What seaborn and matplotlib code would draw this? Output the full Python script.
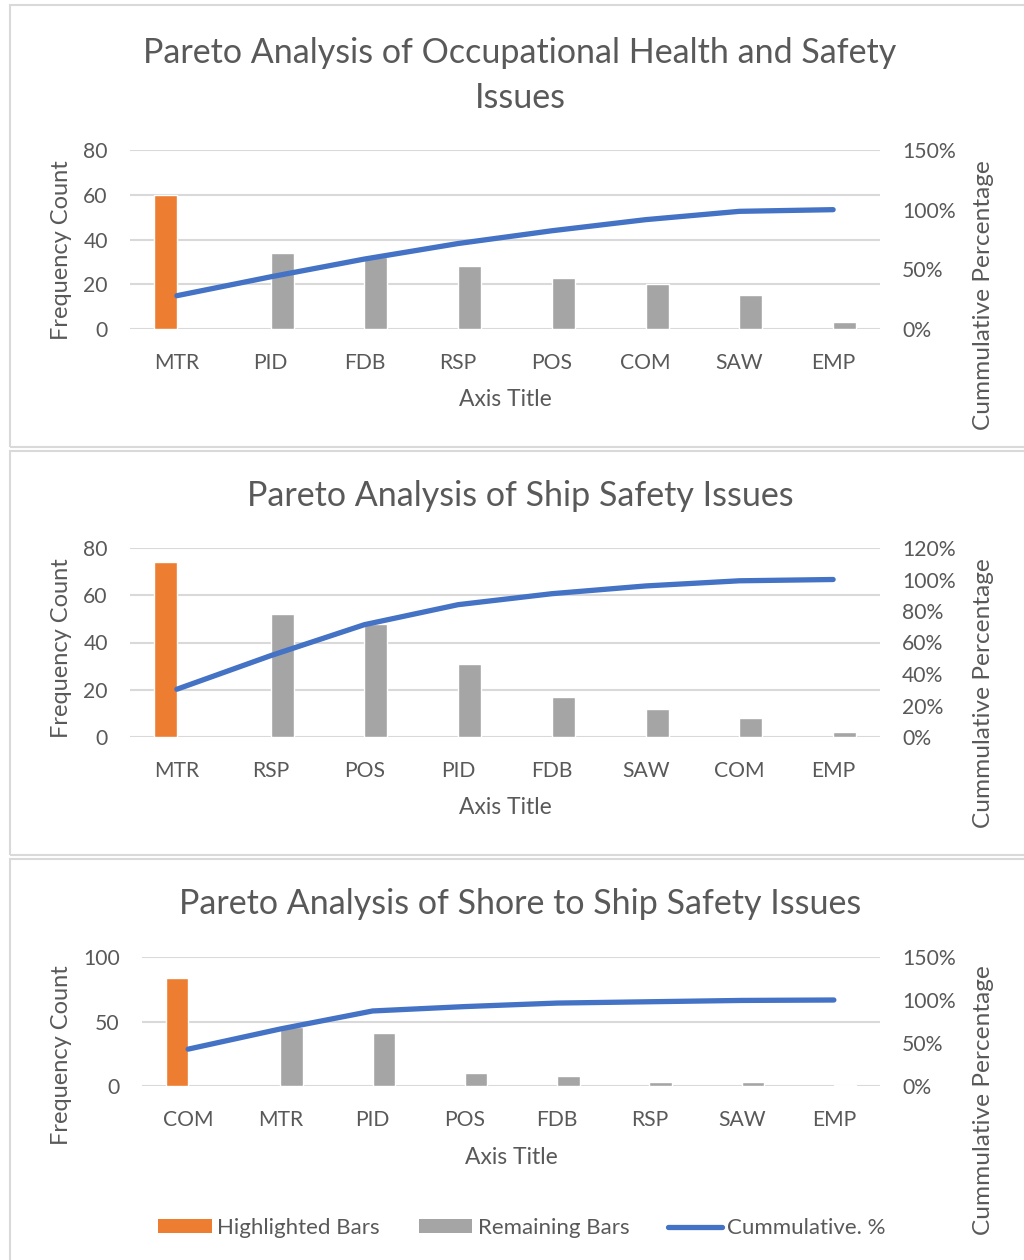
import numpy as np
import pandas as pd
import matplotlib
matplotlib.use("Agg")
import matplotlib.pyplot as plt
import seaborn as sns
from matplotlib.patches import Patch, Rectangle
from matplotlib.lines import Line2D
from matplotlib.ticker import FixedLocator, FuncFormatter

# ---------------- data ----------------
titles = ["Pareto Analysis of Occupational Health and Safety\nIssues",
          "Pareto Analysis of Ship Safety Issues",
          "Pareto Analysis of Shore to Ship Safety Issues"]

cats_ohs = ["MTR", "PID", "FDB", "RSP", "POS", "COM", "SAW", "EMP"]
vals_ohs = [60, 34, 32, 28, 23, 20, 15, 3]

cats_ship = ["MTR", "RSP", "POS", "PID", "FDB", "SAW", "COM", "EMP"]
vals_ship = [74, 52, 48, 31, 17, 12, 8, 2]

cats_shore = ["COM", "MTR", "PID", "POS", "FDB", "RSP", "SAW", "EMP"]
vals_shore = [84, 46, 41, 10, 8, 3, 3, 1]

left_ticks = [[0, 20, 40, 60, 80], [0, 20, 40, 60, 80], [0, 50, 100]]
right_ticks = [[0, 50, 100, 150], [0, 20, 40, 60, 80, 100, 120], [0, 50, 100, 150]]

series_labels = ["Highlighted Bars", "Remaining Bars", "Cummulative. %"]

# ---------------- style ----------------
sns.set_theme(style="white")
plt.rcParams['font.family'] = ['Lato', 'DejaVu Sans']
TXT = "#595959"
ORANGE = "#ED7D31"
GRAY = "#A5A5A5"
BLUE = "#4472C4"
GRID = "#D9D9D9"

W, H = 1024, 1260
fig = plt.figure(figsize=(W / 100, H / 100), dpi=100)
fig.patch.set_facecolor("white")

def fx(px):
    return px / W

def fy(py):
    return 1 - py / H

# panel borders
for (top, bot) in [(5, 447), (451, 855), (859, 1265)]:
    fig.patches.append(Rectangle((fx(10), fy(bot)), fx(1030) - fx(10), fy(top) - fy(bot),
                                 transform=fig.transFigure, fill=False,
                                 edgecolor=GRID, lw=1.5, zorder=0))

# axes geometry (pixels): left, right, top, bottom
geoms = [(130, 880, 150, 329), (130, 880, 548, 737), (142, 880, 957, 1086)]
title_y = [75.5, 496, 904]
axis_title_y = [400, 808, 1157]
ylabel_top = [160, 558, 965]
datasets = [(cats_ohs, vals_ohs), (cats_ship, vals_ship), (cats_shore, vals_shore)]

FS = 15.2
LFS = 17

for i, ((cats, vals), (l, r, t, b)) in enumerate(zip(datasets, geoms)):
    ax = fig.add_axes([fx(l), fy(b), fx(r) - fx(l), fy(t) - fy(b)])
    df = pd.DataFrame({
        "cat": cats,
        "val": vals,
        "grp": [series_labels[0]] + [series_labels[1]] * (len(cats) - 1),
    })
    sns.barplot(data=df, x="cat", y="val", hue="grp",
                hue_order=series_labels[:2], order=cats,
                palette=[ORANGE, GRAY], width=0.49, dodge=True, gap=0,
                saturation=1, legend=False, ax=ax, zorder=3)
    ax.set_xlim(-0.5, len(cats) - 0.5)
    ax.set_ylim(left_ticks[i][0], left_ticks[i][-1])
    ax.yaxis.set_major_locator(FixedLocator(left_ticks[i]))
    ax.grid(axis="y", color=GRID, lw=1.5, zorder=0)
    ax.grid(axis="x", visible=False)
    ax.set_axisbelow(True)
    for s in ax.spines.values():
        s.set_visible(False)
    ax.tick_params(axis="both", length=0, labelsize=FS, labelcolor=TXT)
    ax.tick_params(axis="x", pad=17.5)
    ax.tick_params(axis="y", pad=16)
    ax.set_xlabel("")
    ax.set_ylabel("")

    # cumulative percent on twin axis
    ax2 = ax.twinx()
    cum = np.cumsum(vals) / np.sum(vals) * 100
    sns.lineplot(x=np.arange(len(cats)), y=cum, ax=ax2, color=BLUE, lw=3.8,
                 sort=False, legend=False, solid_capstyle="round", zorder=4)
    ax2.set_ylim(right_ticks[i][0], right_ticks[i][-1])
    ax2.yaxis.set_major_locator(FixedLocator(right_ticks[i]))
    ax2.yaxis.set_major_formatter(FuncFormatter(lambda v, p: f"{v:.0f}%"))
    ax2.tick_params(axis="y", length=0, labelsize=FS, labelcolor=TXT, pad=16)
    ax2.grid(False)
    for s in ax2.spines.values():
        s.set_visible(False)
    ax2.set_ylabel("")

    # texts
    fig.text(fx(520), fy(title_y[i]), titles[i], ha="center", va="center",
             fontsize=24.5, color=TXT, linespacing=1.5)
    fig.text(fx((l + r) / 2), fy(axis_title_y[i]), "Axis Title", ha="center",
             va="center", fontsize=16.5, color=TXT)
    fig.text(fx(62), fy(ylabel_top[i]), "Frequency Count", rotation=90,
             ha="center", va="top", fontsize=LFS, color=TXT)
    fig.text(fx(983), fy(ylabel_top[i]), "Cummulative Percentage", rotation=90,
             ha="center", va="top", fontsize=LFS + 0.6, color=TXT)

handles = [Patch(facecolor=ORANGE, edgecolor="none"),
           Patch(facecolor=GRAY, edgecolor="none"),
           Line2D([0], [0], color=BLUE, lw=3.8, solid_capstyle="round")]
leg = fig.legend(handles, series_labels, loc="center", ncol=3,
                 bbox_to_anchor=(fx(522), fy(1228)), frameon=False,
                 fontsize=16, handlelength=2.4, handleheight=0.55,
                 handletextpad=0.25, columnspacing=1.75)
for txt in leg.get_texts():
    txt.set_color(TXT)

fig.savefig("out.png", dpi=100)
